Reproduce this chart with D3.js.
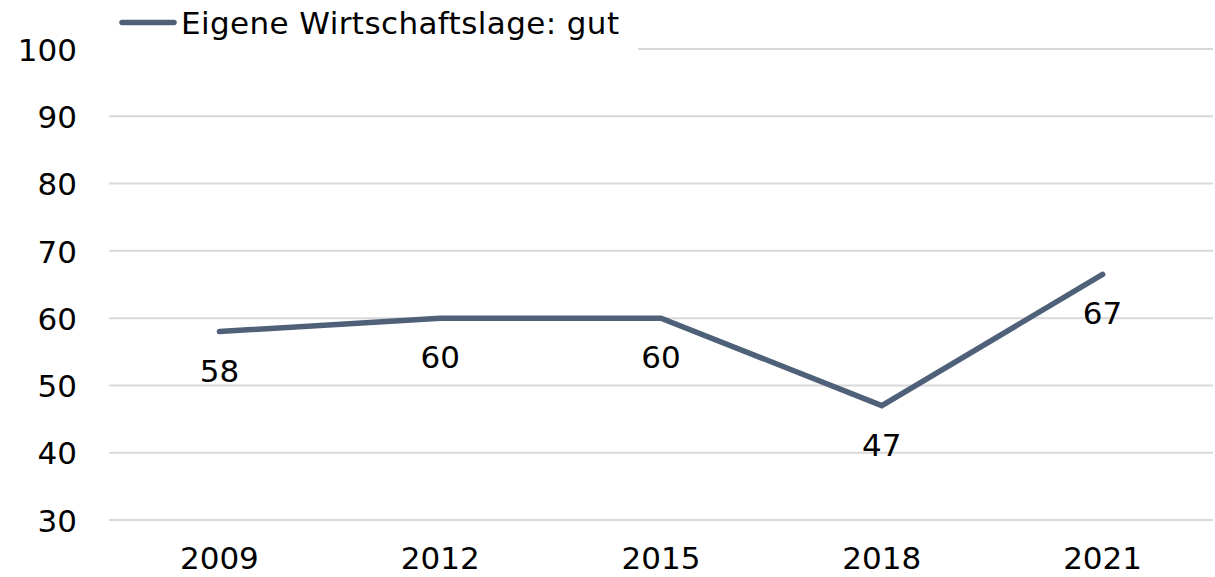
<!DOCTYPE html>
<html>
<head>
<meta charset="utf-8">
<script src="https://cdn.jsdelivr.net/npm/d3@7"></script>
<style>
  html, body { margin: 0; padding: 0; background: #fff; }
  svg { display: block; font-family: Verdana, "DejaVu Sans", sans-serif; }
</style>
</head>
<body>
<svg id="chart" width="1215" height="577"></svg>
<script>
const years = ["2009", "2012", "2015", "2018", "2021"];
const values = [58, 60, 60, 47, 66.5];
const yTicks = [30, 40, 50, 60, 70, 80, 90, 100];
const seriesName = "Eigene Wirtschaftslage: gut";
const lineColor = "#4f6178";
const gridColor = "#d9d9d9";
const FS = 31;

const svg = d3.select("#chart");
const x = d3.scaleBand().domain(years).range([109, 1213]);
const y = d3.scaleLinear().domain([30, 100]).range([520, 49]);

// gridlines
svg.append("g").selectAll("line").data(yTicks).join("line")
  .attr("x1", d => d === 100 ? 638 : 109)
  .attr("x2", 1213)
  .attr("y1", d => y(d)).attr("y2", d => y(d))
  .attr("stroke", gridColor).attr("stroke-width", 2);

// y axis
const yAxis = d3.axisLeft(y).tickValues(yTicks).tickSize(0).tickPadding(0);
const gy = svg.append("g").attr("transform", "translate(77,0)").call(yAxis);
gy.select(".domain").remove();
gy.selectAll("text").attr("font-size", FS).attr("fill", "#000")
  .attr("font-family", 'Verdana, "DejaVu Sans", sans-serif')
  .attr("dy", "0.36em");

// x axis
const xAxis = d3.axisBottom(x).tickSize(0).tickPadding(0);
const gx = svg.append("g").attr("transform", "translate(0,569)").call(xAxis);
gx.select(".domain").remove();
gx.selectAll("text").attr("font-size", FS).attr("fill", "#000")
  .attr("font-family", 'Verdana, "DejaVu Sans", sans-serif')
  .attr("dy", "0");

// line
const pts = years.map((yr, i) => ({ yr, v: values[i] }));
const line = d3.line().x(d => x(d.yr) + x.bandwidth() / 2).y(d => y(d.v));
svg.append("path").datum(pts)
  .attr("d", line)
  .attr("fill", "none")
  .attr("stroke", lineColor)
  .attr("stroke-width", 5.5)
  .attr("stroke-linecap", "round")
  .attr("stroke-linejoin", "miter");

// data labels
svg.append("g").selectAll("text").data(pts).join("text")
  .attr("x", d => x(d.yr) + x.bandwidth() / 2)
  .attr("y", d => y(d.v) + 50)
  .attr("text-anchor", "middle")
  .attr("font-size", FS)
  .attr("fill", "#000")
  .text(d => Math.round(d.v));

// legend
const lg = svg.append("g");
lg.append("line").attr("x1", 122).attr("x2", 174).attr("y1", 22.5).attr("y2", 22.5)
  .attr("stroke", lineColor).attr("stroke-width", 5.5).attr("stroke-linecap", "round");
lg.append("text").attr("x", 181).attr("y", 34)
  .attr("font-size", FS).attr("fill", "#000")
  .attr("letter-spacing", "0.4px")
  .text(seriesName);
</script>
</body>
</html>
